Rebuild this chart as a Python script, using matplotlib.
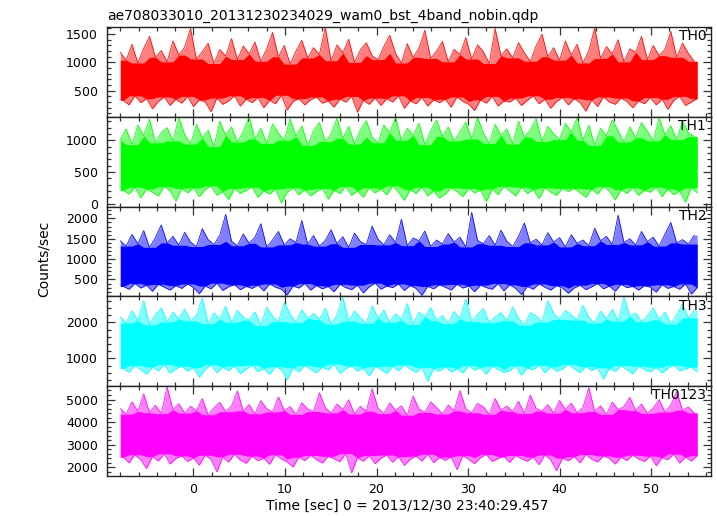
import numpy as np
import matplotlib
matplotlib.use("Agg")
import matplotlib.pyplot as plt
from matplotlib.ticker import MultipleLocator

# ---------------- data (counts/sec, read/estimated from the picture) ----------------
# The light curves are very dense; each band is given as the alternating local
# peaks (hi) and troughs (lo) of the trace.
title = "ae708033010_20131230234029_wam0_bst_4band_nobin.qdp"
x_label = "Time [sec] 0 = 2013/12/30 23:40:29.457"
y_label = "Counts/sec"
band_names = ["TH0", "TH1", "TH2", "TH3", "TH0123"]
band_colors = ["#ff0000", "#00ff00", "#0000ff", "#00ffff", "#ff00ff"]

t_start = -8.0
t_step = 0.32

th0_hi = [
    1180, 1040, 1320, 990, 1250, 1460, 1090, 1210, 1010, 1380, 1130,
    1270, 1600, 1060, 1190, 1340, 980, 1230, 1110, 1420, 1050, 1290,
    1150, 1360, 1020, 1240, 1530, 1100, 1300, 970, 1200, 1390, 1080,
    1260, 1140, 1620, 1030, 1310, 1170, 1410, 1000, 1220, 1350, 1120,
    1050, 1280, 1480, 1160, 990, 1330, 1090, 1250, 1570, 1070, 1200,
    1370, 1010, 1230, 1140, 1440, 1060, 1310, 1190, 980, 1600, 1120,
    1240, 1080, 1350, 1170, 1020, 1290, 1500, 1100, 1260, 1040, 1380,
    1130, 1320, 990, 1210, 1610, 1070, 1280, 1150, 1400, 1010, 1240,
    1180, 1460, 1050, 1300, 1120, 1230, 1550, 1090, 1340, 1160, 1020,
]
th0_lo = [
    330, 250, 410, 290, 360, 180, 310, 390, 240, 350, 280,
    400, 220, 340, 300, 130, 370, 260, 320, 410, 230, 350,
    290, 380, 200, 330, 270, 420, 160, 310, 360, 250, 340,
    390, 280, 320, 210, 350, 300, 400, 120, 330, 260, 370,
    240, 360, 300, 410, 190, 320, 270, 380, 230, 340, 290,
    350, 210, 390, 310, 260, 150, 340, 280, 400, 230, 320,
    300, 370, 240, 330, 410, 270, 350, 190, 310, 380, 250,
    360, 290, 140, 340, 220, 390, 300, 260, 370, 310, 200,
    320, 270, 380, 250, 350, 170, 330, 400, 240, 300, 360,
]

th1_hi = [
    1010, 1180, 930, 1240, 1070, 1330, 960, 1120, 1200, 990, 1360,
    1090, 940, 1250, 1040, 1160, 900, 1300, 1080, 1210, 970, 1140,
    1370, 1020, 1190, 950, 1260, 1110, 1000, 1340, 1060, 1230, 920,
    1150, 1280, 980, 1100, 1350, 1030, 1220, 940, 1170, 1310, 1050,
    960, 1240, 1120, 1360, 1000, 1190, 1080, 1270, 930, 1150, 1320,
    1060, 1210, 990, 1130, 1290, 1020, 1370, 1110, 950, 1250, 1080,
    1180, 940, 1300, 1050, 1160, 1340, 980, 1220, 1100, 1010, 1270,
    1130, 1360, 1000, 1240, 920, 1190, 1070, 1320, 1150, 970, 1210,
    1040, 1280, 1140, 990, 1350, 1090, 1230, 1010, 1300, 1120, 1060,
]
th1_lo = [
    210, 150, 260, 90, 230, 180, 120, 270, 200, 40, 240,
    170, 250, 110, 220, 280, 130, 190, 60, 240, 160, 210,
    260, 100, 200, 150, 230, 10, 180, 250, 140, 220, 120,
    190, 240, 70, 210, 160, 270, 130, 200, 100, 250, 170,
    230, 140, 280, 180, 50, 220, 160, 260, 120, 200, 90,
    150, 250, 190, 110, 240, 170, 210, 30, 230, 140, 270,
    200, 120, 260, 160, 220, 80, 250, 180, 130, 240, 190,
    240, 170, 100, 230, 150, 270, 200, 60, 220, 160, 250,
    130, 210, 180, 260, 110, 230, 140, 200, 20, 250, 170,
]

th2_hi = [
    1450, 1320, 1610, 1380, 1700, 1290, 1530, 1840, 1400, 1560, 1340,
    1660, 1420, 1310, 1750, 1480, 1360, 1590, 2100, 1440, 1330, 1620,
    1390, 1540, 1870, 1300, 1470, 1680, 1350, 1500, 1410, 1950, 1370,
    1580, 1320, 1460, 1720, 1380, 1550, 1290, 1640, 1430, 1360, 1810,
    1490, 1350, 1600, 1410, 1980, 1330, 1520, 1450, 1690, 1310, 1470,
    1370, 1630, 1420, 1540, 1300, 2150, 1460, 1380, 1580, 1340, 1710,
    1440, 1310, 1560, 1890, 1400, 1490, 1350, 1650, 1420, 1530, 1300,
    1600, 1390, 1470, 1330, 1760, 1450, 1560, 1360, 2080, 1410, 1500,
    1350, 1680, 1430, 1540, 1320, 1620, 1900, 1400, 1480, 1370, 1590,
]
th2_lo = [
    330, 260, 400, 290, 360, 210, 380, 310, 240, 350, 280,
    390, 300, 150, 340, 270, 410, 230, 320, 370, 250, 330,
    280, 360, 220, 390, 310, 260, 120, 340, 290, 400, 240,
    350, 270, 330, 200, 380, 300, 250, 360, 170, 320, 410,
    260, 340, 300, 390, 230, 350, 280, 110, 330, 270, 370,
    310, 240, 380, 290, 340, 200, 360, 300, 260, 400, 220,
    370, 280, 130, 330, 260, 390, 310, 240, 350, 290, 160,
    290, 360, 250, 320, 400, 270, 340, 210, 380, 300, 330,
    240, 350, 310, 190, 370, 280, 330, 260, 390, 140, 300,
]

th3_hi = [
    2150, 1980, 2320, 2050, 2600, 1930, 2210, 2400, 2010, 2280, 2100,
    2370, 2040, 2190, 2680, 1960, 2260, 2090, 2450, 2000, 2330, 2140,
    2060, 2290, 1910, 2420, 2170, 2020, 2550, 2230, 1990, 2350, 2110,
    2250, 2080, 2390, 1950, 2200, 2700, 2030, 2310, 2130, 1970, 2460,
    2120, 2340, 2000, 2240, 2070, 2520, 1940, 2280, 2160, 2410, 2050,
    2190, 1960, 2300, 2100, 2650, 2020, 2220, 2380, 1990, 2150, 2270,
    2040, 2430, 2110, 1920, 2270, 2180, 2010, 2600, 2240, 2080, 2330,
    2200, 2060, 2470, 2140, 1980, 2310, 2090, 2360, 2030, 2710, 2170,
    2260, 2020, 2180, 2400, 2070, 2290, 1950, 2210, 2500, 2120, 2340,
]
th3_lo = [
    720, 610, 800, 680, 560, 760, 650, 830, 590, 710, 780,
    640, 740, 470, 690, 820, 600, 750, 660, 790, 570, 700,
    810, 630, 720, 550, 770, 680, 400, 740, 620, 800, 690,
    600, 760, 670, 840, 580, 710, 790, 640, 730, 510, 770,
    690, 580, 780, 650, 820, 700, 610, 750, 360, 720, 640,
    760, 620, 710, 590, 800, 670, 740, 560, 780, 690, 610,
    650, 790, 530, 730, 680, 810, 600, 760, 640, 700, 830,
    710, 600, 770, 660, 740, 420, 720, 630, 800, 680, 570,
    780, 690, 620, 750, 590, 720, 810, 650, 700, 760, 620,
]

th0123_hi = [
    4600, 4350, 4900, 4480, 5250, 4420, 4750, 4380, 5560, 4550, 4820,
    4400, 4700, 4510, 5050, 4330, 4640, 4880, 4460, 4720, 5380, 4500,
    4780, 4370, 4950, 4600, 4450, 5120, 4520, 4690, 4340, 4860, 4580,
    4470, 5300, 4640, 4410, 4800, 4560, 4990, 4360, 4700, 4490, 5480,
    4620, 4380, 4850, 4530, 4720, 4310, 5150, 4580, 4430, 4900, 4650,
    4360, 4760, 4500, 5400, 4590, 4420, 4830, 4680, 4350, 5050, 4540,
    4710, 4470, 4920, 4380, 5200, 4610, 4490, 4780, 4400, 4960, 4570,
    4840, 4420, 4650, 5530, 4480, 4730, 4340, 4890, 4560, 4690, 5100,
    4510, 4800, 4390, 4620, 5000, 4450, 4760, 5350, 4530, 4670, 4410,
]
th0123_lo = [
    2450, 2200, 2560, 2330, 1950, 2480, 2280, 2600, 2150, 2390, 2510,
    2260, 2420, 2100, 2540, 2350, 1800, 2470, 2230, 2580, 2320, 2180,
    2500, 2290, 2410, 2140, 2560, 2370, 2240, 2020, 2450, 2300, 2530,
    2340, 2190, 2490, 2380, 2250, 2610, 1760, 2430, 2270, 2520, 2160,
    2400, 2550, 2230, 2470, 2090, 2360, 2500, 2280, 2580, 2210, 2440,
    2310, 2460, 1900, 2520, 2350, 2170, 2430, 2570, 2260, 2390, 2480,
    2220, 2530, 2380, 2270, 2460, 2120, 2550, 2330, 1850, 2410, 2290,
    2480, 2200, 2570, 2360, 2240, 2510, 2400, 2150, 2450, 2300, 2540,
    2370, 2260, 2500, 2070, 2430, 2340, 2590, 2190, 2460, 2280, 2520,
]

x_limits = (-9.45, 56.55)
y_limits = [(40, 1625), (-47, 1370), (85, 2290), (225, 2720), (1620, 5590)]
y_major = [500, 500, 500, 1000, 1000]
y_minor = [100, 100, 100, 200, 200]


def neighbour_extreme(a, func):
    """extreme of each value and its two neighbours (where the trace overlaps densely)"""
    p = np.pad(np.asarray(a, float), 1, mode="edge")
    return func.reduce([p[:-2], p[1:-1], p[2:]])


# ---------------- figure ----------------
plt.rcParams["font.family"] = ["DejaVu Sans"]
W, H = 717, 516
fig = plt.figure(figsize=(W / 100, H / 100), dpi=100)

left, right = 107 / W, 711 / W
top, bottom = 1 - 27 / H, 1 - 476 / H
gs = fig.add_gridspec(5, 1, left=left, right=right, top=top, bottom=bottom, hspace=0)

pairs = [(th0_hi, th0_lo), (th1_hi, th1_lo), (th2_hi, th2_lo),
         (th3_hi, th3_lo), (th0123_hi, th0123_lo)]

for i, ((hi, lo), name, col) in enumerate(zip(pairs, band_names, band_colors)):
    n = len(hi) + len(lo)
    t = t_start + t_step * np.arange(n)
    t_hi, t_lo = t[0::2], t[1::2]
    upper = np.interp(t, t_hi, hi)
    lower = np.interp(t, t_lo, lo)
    core_hi = np.interp(t, t_hi, neighbour_extreme(hi, np.minimum))
    core_lo = np.interp(t, t_lo, neighbour_extreme(lo, np.maximum))
    ax = fig.add_subplot(gs[i])
    # light fringe swept by the spikes, solid core where the trace overlaps
    ax.fill_between(t, lower, upper, color=col, alpha=0.5, linewidth=0)
    ax.fill_between(t, core_lo, core_hi, color=col, linewidth=0)
    ax.plot(t_hi, hi, color=col, lw=0.6, alpha=0.9)
    ax.plot(t_lo, lo, color=col, lw=0.6, alpha=0.9)
    ax.set_xlim(*x_limits)
    ax.set_ylim(*y_limits[i])
    ax.xaxis.set_major_locator(MultipleLocator(10))
    ax.xaxis.set_minor_locator(MultipleLocator(2))
    ax.yaxis.set_major_locator(MultipleLocator(y_major[i]))
    ax.yaxis.set_minor_locator(MultipleLocator(y_minor[i]))
    ax.tick_params(which="both", direction="in", top=True, right=True,
                   color="#333333", width=0.9)
    ax.tick_params(which="major", length=5.5, labelsize=9, pad=6.5)
    ax.tick_params(which="minor", length=2.8)
    for s in ax.spines.values():
        s.set_linewidth(1.0)
        s.set_color("#222222")
    if i < 4:
        ax.tick_params(labelbottom=False)
    else:
        ax.tick_params(axis="x", pad=5)
    ax.text(0.992, 0.975, name, transform=ax.transAxes, ha="right", va="top",
            fontsize=10, color="black", zorder=5)

fig.text(107 / W, 1 - 19.5 / H, title, ha="left", va="baseline", fontsize=10)
fig.text(43.5 / W, 1 - 259 / H, y_label, rotation=90, ha="center", va="center", fontsize=10)
fig.text(407 / W, 1 - 510 / H, x_label, ha="center", va="baseline", fontsize=10)

fig.savefig("out.png", dpi=100)
